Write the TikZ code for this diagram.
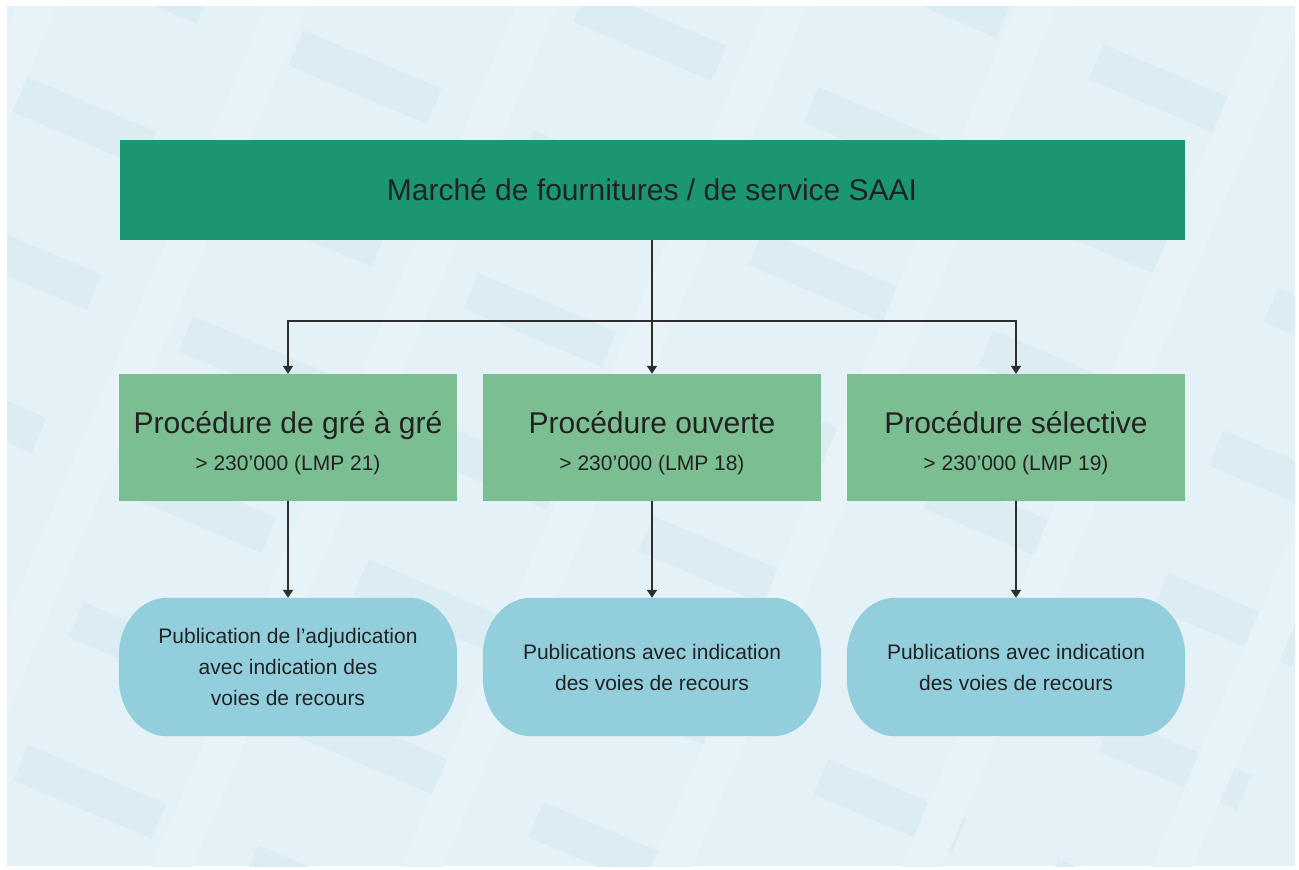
\documentclass[tikz,border=0pt]{standalone}
\usepackage{fontspec}
\setmainfont{Liberation Sans}
\usetikzlibrary{arrows.meta,calc}
\definecolor{bgc}{HTML}{E4F1F6}
\definecolor{stripec}{HTML}{DBEDF2}
\definecolor{lightc}{HTML}{E7F3F7}
\definecolor{topc}{HTML}{1A9672}
\definecolor{midc}{HTML}{7BBE91}
\definecolor{pillc}{HTML}{92CEDB}
\definecolor{txtc}{HTML}{222222}
\definecolor{linec}{HTML}{2E2E2E}
\pgfdeclarelayer{back}
\pgfsetlayers{back,main}
\newcommand\pillfill[1]{\fill[pillc] ([xshift=48pt]#1.north west) -- ([xshift=-48pt]#1.north east) arc[start angle=90,end angle=0,x radius=48pt,y radius=58pt] -- ([yshift=58pt]#1.south east) arc[start angle=0,end angle=-90,x radius=48pt,y radius=58pt] -- ([xshift=48pt]#1.south west) arc[start angle=270,end angle=180,x radius=48pt,y radius=58pt] -- ([yshift=-58pt]#1.north west) arc[start angle=180,end angle=90,x radius=48pt,y radius=58pt] -- cycle;}
\begin{document}
\begin{tikzpicture}[x=1pt,y=-1pt,
  topbox/.style={fill=topc, minimum width=1065pt, minimum height=100pt, inner sep=0pt, text=txtc, font=\fontsize{30}{36}\selectfont, text height=21.5pt, text depth=0pt},
  midbox/.style={fill=midc, minimum width=338pt, minimum height=127pt, inner sep=0pt},
  titletext/.style={anchor=base, text=txtc, font=\fontsize{30}{36}\selectfont, inner sep=0pt},
  subtext/.style={anchor=base, text=txtc, font=\fontsize{21}{25}\selectfont, inner sep=0pt},
  pill/.style={minimum width=338pt, minimum height=138pt, inner sep=0pt, align=center, text=txtc, font=\fontsize{21}{31}\selectfont},
  conn/.style={draw=linec, line width=1.6pt, -{Triangle[length=8pt,width=10pt]}},
]
\useasboundingbox (0,0) rectangle (1299,870);
\begin{pgfonlayer}{back}
\fill[white] (0,0) rectangle (1299,870);
\fill[bgc] (7,6) rectangle (1295,866);
\begin{scope}
  \clip (7,6) rectangle (1295,866);
  \foreach \i in {-4,...,8}{
    \foreach \j in {-3,...,8}{
      \pgfmathsetmacro\cx{365+\i*230-\j*55}
      \pgfmathsetmacro\cy{77+\i*100+\j*143}
      \fill[stripec] ({\cx-61.6},{\cy-46.8}) -- ++(138,58.6) -- ++(-14.8,35) -- ++(-138,-58.6) -- cycle;
    }
  }
  \foreach \k in {-1,...,7}{
    \fill[lightc] ({40+\k*250},-50) -- ++(41,0) -- ++(-424,1000) -- ++(-41,0) -- cycle;
  }
\end{scope}
\end{pgfonlayer}

\node[topbox] (top) at (652,190) {Marché de fournitures / de service SAAI};

\node[midbox] (m1) at (288,437.5) {};
\node[midbox] (m2) at (652,437.5) {};
\node[midbox] (m3) at (1016,437.5) {};

\node[titletext] (t1) at (288,433) {Procédure de gré à gré};
\node[subtext] (s1) at (288,470) {> 230’000 (LMP 21)};
\node[titletext] (t2) at (652,433) {Procédure ouverte};
\node[subtext] (s2) at (652,470) {> 230’000 (LMP 18)};
\node[titletext] (t3) at (1016,433) {Procédure sélective};
\node[subtext] (s3) at (1016,470) {> 230’000 (LMP 19)};

\node[pill] (p1) at (288,667) {Publication de l’adjudication\\avec indication des\\voies de recours};
\node[pill] (p2) at (652,667) {Publications avec indication\\des voies de recours};
\node[pill] (p3) at (1016,667) {Publications avec indication\\des voies de recours};
\begin{pgfonlayer}{back}
\pillfill{p1}
\pillfill{p2}
\pillfill{p3}
\end{pgfonlayer}

\coordinate (hb) at (652,321);
\draw[conn] (top.south) -- (m2.north);
\draw[conn] (hb) -| (m1.north);
\draw[conn] (hb) -| (m3.north);
\draw[conn] (m1.south) -- (p1.north);
\draw[conn] (m2.south) -- (p2.north);
\draw[conn] (m3.south) -- (p3.north);
\end{tikzpicture}
\end{document}
